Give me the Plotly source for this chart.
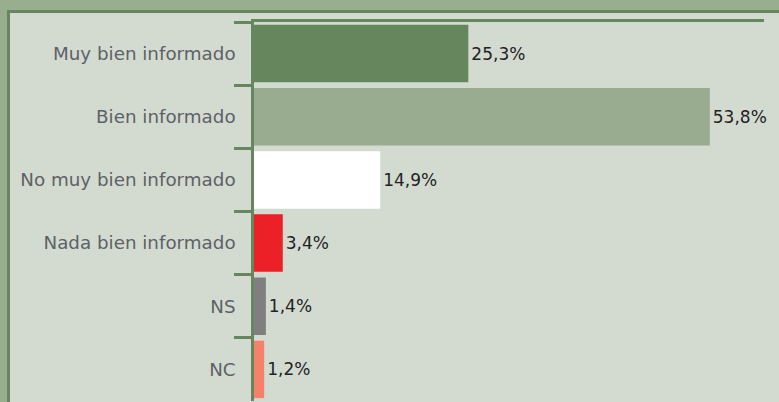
import plotly.graph_objects as go

categories = ["Muy bien informado", "Bien informado", "No muy bien informado",
              "Nada bien informado", "NS", "NC"]
values = [25.3, 53.8, 14.9, 3.4, 1.4, 1.2]
bar_colors = ["#66875e", "#99ac8f", "#ffffff", "#ec2027", "#807e80", "#f4826a"]
value_labels = [f"{v:.1f}%".replace(".", ",") for v in values]

W, H = 779, 402
L, R, T, B = 254, 15, 22, 1
pw, ph = W - L - R, H - T - B

def px_x(px):
    return (px - L) / pw

def px_y(py):
    return (H - B - py) / ph

fig = go.Figure(go.Bar(
    y=categories, x=values, orientation="h",
    marker=dict(color=bar_colors, line=dict(width=0)),
    text=value_labels, textposition="outside", cliponaxis=False,
    textfont=dict(family="DejaVu Sans", size=17, color="#222222"),
))

fig.update_layout(
    width=W, height=H,
    margin=dict(l=L, r=R, t=T, b=B, pad=0),
    paper_bgcolor="#99ad8f",
    plot_bgcolor="rgba(0,0,0,0)",
    bargap=0.09,
    showlegend=False,
    shapes=[dict(type="rect", xref="paper", yref="paper",
                 x0=px_x(8.5), x1=px_x(820), y0=px_y(11.5), y1=px_y(440),
                 fillcolor="#d3dbd1", line=dict(color="#66875e", width=3),
                 layer="below")],
)
fig.update_xaxes(range=[0, 60.2], showticklabels=False, showgrid=False,
                 zeroline=False, showline=True, side="top",
                 linecolor="#66875e", linewidth=2.5, ticks="")
fig.update_yaxes(autorange="reversed", showgrid=False, zeroline=False,
                 showline=True, linecolor="#66875e", linewidth=2.5,
                 ticks="outside", tickson="boundaries", ticklen=17,
                 tickwidth=2.5, tickcolor="#66875e", ticklabelstandoff=12,
                 tickfont=dict(family="DejaVu Sans", size=18.3, color="#5e6166"))

fig.write_html("out.html", config={"displayModeBar": False},
               post_script="document.body.style.margin='0';"
                           "document.body.style.background='#99ad8f';")
